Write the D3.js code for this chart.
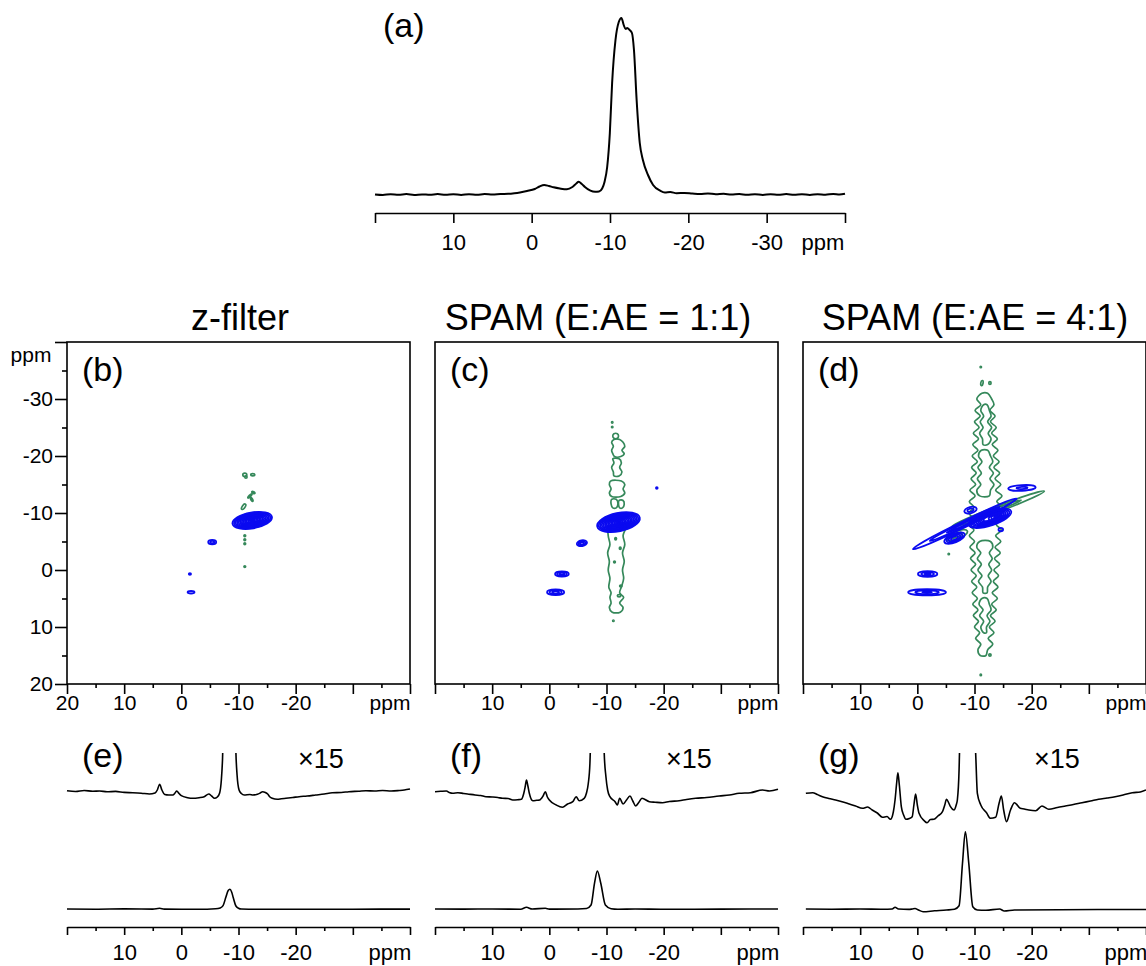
<!DOCTYPE html>
<html><head><meta charset="utf-8">
<script src="https://cdn.jsdelivr.net/npm/d3@7"></script>
<style>
body{margin:0;background:#fff}
svg{display:block}
text{font-family:"Liberation Sans",Arial,Helvetica,sans-serif;fill:#000}
</style>
</head><body>
<script>
// ---------------- DATA ----------------
const ppmMajor = [20,10,0,-10,-20,-30,-40];
const ppmMinor = [15,5,-5,-15,-25,-35];
const labelsA = [10,0,-10,-20,-30];
const labelsB = [20,10,0,-10,-20];
const labelsCD = [10,0,-10,-20];
const labelsBottom = [10,0,-10,-20];
const yMajor = [-40,-30,-20,-10,0,10,20];
const yMinor = [-35,-25,-15,-5,5,15];
const yLabels = [-30,-20,-10,0,10,20];
const titles2D = ["z-filter","SPAM (E:AE = 1:1)","SPAM (E:AE = 4:1)"];
const letters2D = ["(b)","(c)","(d)"];
const letters1D = ["(e)","(f)","(g)"];
const scaleLabel = "\u00d715";
const unitLabel = "ppm";

// (a) 1D spectrum: [ppm, intensity]
const spectrumA = [
 [20,0.5],[19,0],[18,0.8],[17,0.2],[16,0.9],[15,0.1],[14,0.6],[13,0.2],[12,0.9],[11,0.3],[10,0.7],[9,0.1],
 [8,0.8],[7,0.3],[6,0.9],[5,0.5],[4,1.0],[3,1.2],[2.2,1.8],[1.5,2.6],[0.6,4],[-0.4,6],[-1.0,8.5],[-1.6,10],
 [-2.2,9],[-2.8,7.7],[-3.6,6.5],[-4.5,5.7],[-5.2,8],[-5.7,11.5],[-6.0,13.3],[-6.4,11],[-6.8,8],[-7.5,4.3],
 [-8.1,3.2],[-8.6,3.5],[-9.0,6.5],[-9.3,13],[-9.64,28],[-9.98,62],[-10.27,112],[-10.7,155],[-11.12,173],
 [-11.46,177],[-11.75,170],[-12.0,166],[-12.2,167],[-12.5,165],[-12.8,162],[-13.06,145],[-13.4,95],
 [-13.8,52],[-14.2,35],[-14.85,20],[-15.5,10],[-16.4,4.3],[-17.0,2.5],[-17.7,2.9],[-18.5,1.8],[-19.5,2.1],
 [-20.5,1.5],[-21.5,1.0],[-22.5,1.6],[-23.5,0.8],[-24.5,1.2],[-25.5,0.4],[-26.5,0.9],[-27.5,0.2],[-28.5,0.8],
 [-29.5,0.1],[-30.5,0.7],[-31.5,0.3],[-32.5,0.9],[-33.5,0.2],[-34.5,0.7],[-35.5,0.1],[-36.5,0.8],[-37.5,0.3],
 [-38.5,1.0],[-39.3,0.4],[-40,1.2]
];

// (e)-(g) projections: x15 traces and normal traces, [ppm, intensity]
const traceE15 = [
 [20,9.3],[18.5,8.5],[17,9.5],[15.5,8.8],[14.3,9],[13,8.2],[11.5,8.6],[10,7.6],[8.5,7.3],[7,6.8],[5.6,6],
 [4.6,7],[4.2,10],[3.8,15.7],[3.4,10],[2.9,5.5],[2.2,5],[1.5,5],[1.1,7],[0.8,9],[0.4,6.5],[0,4.3],[-1.1,2.3],
 [-2.0,1.7],[-3.1,2.3],[-4.0,3.3],[-4.8,6],[-5.3,4],[-5.8,1.7],[-6.3,3],[-6.7,7],[-7.0,20],[-7.2,40],
 [-7.5,100],[-8.0,250],[-8.5,310],[-9.0,250],[-9.3,120],[-9.55,47],[-9.75,25],[-10.1,10],[-10.5,6.5],
 [-11.0,5],[-12.0,5.5],[-12.5,5],[-13.3,5.7],[-13.8,7],[-14.2,8.3],[-14.7,7.5],[-15.1,6],[-15.5,3],
 [-15.9,1.7],[-16.8,0.7],[-17.5,1.2],[-18.3,1.7],[-19.5,2.5],[-20.6,3.3],[-22,4],[-23.5,5],[-25,6],
 [-26.4,7.3],[-28,7.5],[-29.3,8.3],[-31,8.8],[-32.3,9.3],[-33.8,9],[-35.2,9.5],[-36.7,9],[-38.1,9.5],
 [-39,10],[-40,11]
];
const traceE = [
 [20,1],[15,0.8],[10,1.1],[5,0.9],[3.8,1.7],[3,0.9],[0,0.8],[-3,0.7],[-6,1.2],[-6.8,2],[-7.3,4.3],
 [-7.8,13],[-8.2,19.5],[-8.5,20.7],[-8.8,18],[-9.1,12],[-9.55,4],[-10.0,1.8],[-10.5,1],[-14,0.7],
 [-20,0.8],[-30,0.8],[-40,0.9]
];
const traceF15 = [
 [20,8.3],[19,8.7],[18,9],[17.5,7.5],[16.9,6.7],[16,7.3],[15,6.5],[14.3,6],[13,5],[12,4.5],[11.1,3.3],
 [10,3],[9,2.5],[8.2,1.7],[7.2,1.5],[6.4,0],[5.5,0.3],[4.9,0.7],[4.5,6],[4.2,14],[4.0,20],[3.75,14],
 [3.5,6.7],[2.9,-0.7],[2.2,-0.3],[1.7,0],[1.1,4],[0.7,8.3],[0.35,3],[0,0],[-1.2,-5],[-2.3,-7.3],
 [-3.2,-4],[-4.1,-1.7],[-4.7,3.3],[-5.2,-0.7],[-6.1,1.7],[-6.5,7],[-6.8,16],[-7.1,36.7],[-7.4,120],
 [-7.9,400],[-8.4,570],[-8.9,400],[-9.3,150],[-9.6,47],[-9.9,23.3],[-10.2,10],[-10.6,3.3],[-11.5,-1.7],
 [-11.9,-5],[-12.3,1.7],[-12.9,-4],[-13.5,0],[-14.1,4],[-14.6,-1],[-15.1,-6],[-15.7,-2],[-16.2,1.7],
 [-17.5,-1.7],[-18.5,-2.2],[-19.8,-2.7],[-21,-1.5],[-22.7,-0.7],[-24,0.5],[-25.6,1.7],[-27.5,2.5],
 [-29.7,4],[-31.5,5],[-33.2,6.7],[-35.2,7.3],[-37.3,10],[-38.5,9],[-40,10.7]
];
const traceF = [
 [20,1],[15,0.9],[10,1],[5,0.8],[4.0,2.7],[3,1],[0.7,1.7],[0,0.9],[-5,1],[-6.5,1.5],[-7.3,5],
 [-7.9,26.7],[-8.4,39],[-9.0,26.7],[-9.8,5],[-10.8,1.3],[-12,0.8],[-15,1],[-20,0.7],[-30,0.9],[-40,1]
];
const traceG15 = [
 [19.5,6.7],[18.3,7.3],[17.5,5.5],[16.6,3.3],[15.5,1.5],[14.3,0],[13,-2],[11.9,-4],[10.8,-6],[9.6,-8.3],
 [8.7,-7],[7.9,-10],[7,-13],[6.1,-17.3],[5.3,-16.5],[4.7,-19.3],[4.2,-12],[3.9,0],[3.6,18],[3.4,27.3],
 [3.15,15],[2.8,-6.7],[2.4,-15],[2.0,-19.3],[1.4,-18.5],[0.9,-16.7],[0.6,-5],[0.3,6],[0.0,-5],[-0.3,-13.3],
 [-1.2,-20.7],[-1.7,-22.7],[-2.3,-19.5],[-2.9,-19.3],[-3.6,-16],[-4.4,-11.7],[-4.8,-5],[-5.1,0.7],
 [-5.5,-3],[-5.8,-6.7],[-6.4,-10],[-6.8,-5],[-7.0,0],[-7.3,30],[-7.6,150],[-8.0,700],[-8.4,1170],
 [-8.8,700],[-9.2,300],[-9.6,150],[-9.9,80],[-10.2,47],[-10.5,6.7],[-11.1,-5],[-12.1,-12.7],[-12.8,-18.3],
 [-13.7,-17.3],[-14.3,-3.3],[-14.7,4],[-15.1,-10],[-15.6,-21.7],[-16.3,-10],[-17.0,-2.7],[-18.0,-8.3],
 [-18.7,-9],[-19.5,-10],[-20.7,-10.7],[-21.8,-6],[-23.0,-9.3],[-24.5,-7.5],[-25.9,-6],[-27.3,-4.5],
 [-28.8,-2.7],[-30.3,-1],[-31.7,0.7],[-33.2,2],[-34.6,3.3],[-36,5],[-37.6,7.3],[-39,8],[-40,10]
];
const traceG = [
 [19.5,1],[15,0.8],[10,1],[6,0.7],[4.4,1],[3.9,2.7],[3.3,1],[1.5,0.6],[0.9,1],[0.4,1.5],[-0.2,0],
 [-1,-1.7],[-3,-0.8],[-5.1,0],[-6.5,0.8],[-7.3,4.3],[-7.9,46.7],[-8.4,78.3],[-9.0,46.7],[-9.7,3.3],
 [-10.5,0],[-12,-0.3],[-14.4,1],[-15.2,-1],[-17,0],[-25,0.3],[-40,0.5]
];

// 2D contour peaks: [x ppm, y ppm, rx ppm, ry ppm, angle deg, levels, innermost fraction]
const blueB = [
 [-12.4,-8.7,3.5,1.4,-10,13,0.05],[-5.4,-4.9,0.7,0.4,0,2,0.5],[-1.5,0.7,0.2,0.15,0,1,1],[-1.7,3.9,0.6,0.22,0,1,1]
];
const greenB = [
 [-11.1,-16.7,0.35,0.3,0,1,1],[-12.5,-16.7,0.35,0.2,0,1,1],[-11.3,-16.3,0.2,0.2,0,1,1],
 [-12.0,-13.0,0.5,0.15,-45,1,1],[-12.6,-13.6,0.3,0.15,30,1,1],[-12.3,-12.4,0.4,0.15,60,1,1],
 [-10.9,-11.1,0.55,0.25,-55,1,1],[-11.1,-6.0,0.15,0.15,0,1,1],[-11.1,-5.3,0.15,0.15,0,1,1],
 [-11.1,-4.6,0.15,0.15,0,1,1],[-11.1,-0.6,0.15,0.15,0,1,1]
];
const blueC = [
 [-12.1,-8.4,3.8,1.6,-12,14,0.05],[-5.7,-4.7,0.9,0.5,-10,3,0.4],[-2.2,0.7,1.2,0.45,0,3,0.4],
 [-1.1,3.9,1.5,0.5,0,3,0.4],[-18.8,-14.4,0.15,0.15,0,1,1]
];
const greenC = [
 [-11.0,-25.9,0.12,0.12,0,1,1],[-11.0,-25.1,0.12,0.12,0,1,1],[-11.2,8.9,0.12,0.12,0,1,1],
 [-11.6,-5.5,0.15,0.2,0,1,1],[-12.4,-3.8,0.15,0.2,0,1,1],[-11.4,-1.4,0.15,0.15,0,1,1],
 [-12.5,2.8,0.2,0.15,0,1,1],[-12.2,4.5,0.3,0.2,0,1,1]
];
// green band contours: rows [y ppm, left-edge x ppm, right-edge x ppm]
const greenBandsC = [
 [[-23.9,-11.3,-11.9],[-23.5,-11.1,-12.1],[-23.1,-11.3,-11.9]],
 [[-22.9,-11.3,-12.3],[-22.4,-10.9,-12.9],[-21.7,-11.2,-13.2],[-21.0,-10.9,-12.7],[-20.4,-11.1,-13.1],[-19.9,-11.4,-12.5]],
 [[-19.5,-11.1,-12.2],[-18.8,-11.3,-12.6],[-18.0,-10.9,-12.3],[-17.2,-11.2,-12.7],[-16.5,-11.3,-12.2]],
 [[-15.6,-10.7,-12.6],[-15.0,-10.5,-13.2],[-14.2,-10.8,-12.9],[-13.5,-10.5,-13.2],[-12.9,-10.9,-12.5]],
 [[-12.4,-10.9,-11.7],[-11.6,-10.8,-12.0],[-10.9,-11.1,-11.7]],
 [[-12.2,-12.2,-12.9],[-11.5,-12.1,-13.1],[-10.9,-12.3,-12.8]],
 [[-7.6,-10.4,-13.3],[-6.0,-10.3,-12.9],[-4.5,-10.6,-13.2],[-3.0,-10.2,-12.8],[-1.5,-10.5,-13.1],[0,-10.3,-12.8],
  [1.5,-10.6,-13.0],[3.0,-10.4,-12.6],[4.0,-10.8,-12.3],[4.8,-10.6,-13.0],[5.8,-10.8,-12.3],[6.6,-10.5,-12.9],[7.4,-11.0,-12.4]]
];
const blueD = [
 [-8.3,-8.1,10.1,0.55,-26,3,0.35],[-12.7,-9.1,3.9,1.3,-18,9,0.3],[-6.5,-5.6,1.9,0.75,-22,4,0.35],
 [-9.3,-10.5,1.1,0.55,-15,2,0.5],[-18.3,-14.4,2.4,0.5,-3,2,0.4],[-14.6,-7.1,0.4,0.3,0,1,1],
 [-13.8,-9.4,1.4,0.5,-20,3,0.3],[-1.8,0.7,1.7,0.5,0,3,0.3],[-1.7,3.9,3.3,0.55,0,3,0.25]
];
const greenD = [
 [-14.1,-10.7,8.7,0.5,-21,2,0.5],[-6.9,-6.1,2.0,0.7,-22,2,0.5],
 [-11.1,-35.6,0.12,0.12,0,1,1],[-11.3,-32.8,0.2,0.45,10,1,1],[-12.7,-32.8,0.2,0.25,0,1,1],
 [-11.1,18.4,0.12,0.12,0,1,1],[-12.7,14.9,0.2,0.2,0,1,1],[-5.5,-2.8,0.12,0.12,0,1,1]
];
const greenBandsD = [
 [[-31.0,-11.3,-12.3],[-30.0,-10.4,-13.0],[-29.0,-11.1,-13.4],[-28.0,-10.1,-12.7],[-27.0,-11.0,-13.6],[-26.0,-10.0,-12.8],
  [-25.0,-10.8,-13.8],[-24.0,-9.8,-13.0],[-23.0,-10.7,-14.0],[-22.0,-9.7,-13.1],[-21.0,-10.6,-14.1],[-20.0,-9.6,-13.3],
  [-19.0,-10.5,-14.3],[-18.0,-9.5,-13.4],[-17.0,-10.3,-14.4],[-16.0,-9.4,-13.6],[-15.0,-10.2,-14.6],[-14.0,-9.2,-13.7],
  [-13.0,-10.1,-14.8],[-12.0,-9.1,-13.9],[-11.0,-9.9,-14.9],[-10.0,-9.0,-14.0],[-9.0,-9.8,-14.8],[-8.0,-9.0,-13.8],
  [-7.0,-9.9,-14.7],[-6.0,-9.1,-13.7],[-5.0,-10.0,-14.6],[-4.0,-9.2,-13.6],[-3.0,-10.1,-14.5],[-2.0,-9.3,-13.5],
  [-1.0,-10.2,-14.4],[0.0,-9.4,-13.4],[1.0,-10.3,-14.2],[2.0,-9.5,-13.3],[3.0,-10.4,-14.1],[4.0,-9.6,-13.1],
  [5.0,-10.5,-14.0],[6.0,-9.7,-13.0],[7.0,-10.6,-13.8],[8.0,-9.8,-12.8],[9.0,-10.7,-13.6],[10.0,-10.0,-12.6],
  [11.0,-10.9,-13.4],[12.0,-10.2,-12.4],[13.0,-11.1,-13.2],[14.0,-10.6,-12.3],[15.0,-11.0,-12.0]],
 [[-29,-11.6,-12.2],[-28,-11.1,-12.6],[-27,-11.6,-12.9],[-26,-11.0,-12.3],[-25,-11.5,-13.0],[-24,-10.9,-12.4],[-23,-11.4,-12.9],[-22,-11.5,-12.3]],
 [[-21,-11.2,-12.3],[-20,-10.7,-12.8],[-19,-11.3,-13.2],[-18,-10.6,-12.6],[-17,-11.2,-13.3],[-16,-10.5,-12.7],[-15,-11.1,-13.4],[-14,-10.4,-12.8],[-13,-10.9,-12.6]],
 [[-5,-10.9,-12.8],[-4,-10.4,-13.2],[-3,-11.1,-12.6],[-2,-10.5,-13.1],[-1,-11.2,-12.5],[0,-10.6,-13.0],[1,-11.3,-12.4],[2,-10.7,-12.9],[3,-11.4,-12.3],[4,-11.5,-12.2]],
 [[5,-11.3,-12.2],[6,-10.8,-12.6],[7,-11.5,-12.9],[8,-10.9,-12.2],[9,-11.6,-12.7],[10,-11.1,-12.1],[11,-11.6,-12.1]]
];

// ---------------- DRAWING ----------------
const W = 1146, H = 966;
const FONT = '"Liberation Sans",Arial,Helvetica,sans-serif';
const BLUE = "#0a0af0", GREEN = "#35885a";
const svg = d3.select("body").append("svg").attr("width", W).attr("height", H);
svg.append("rect").attr("width", W).attr("height", H).attr("fill", "#fff");

function xAxis(g, xs, y, labels, majorLen, minorLen, pad, keepDomain, fs) {
  const a = g.append("g").attr("transform", `translate(0,${y})`)
    .call(d3.axisBottom(xs).tickValues(ppmMajor).tickSize(majorLen).tickSizeOuter(0).tickPadding(pad)
      .tickFormat(d => labels.includes(d) ? String(d) : ""));
  a.attr("font-family", FONT).attr("font-size", fs);
  a.selectAll("line,path").attr("stroke", "#000").attr("stroke-width", 1.6);
  if (!keepDomain) a.select(".domain").remove();
  if (minorLen > 0) {
    const m = g.append("g").attr("transform", `translate(0,${y})`)
      .call(d3.axisBottom(xs).tickValues(ppmMinor).tickSize(minorLen).tickFormat(""));
    m.select(".domain").remove();
    m.selectAll("line").attr("stroke", "#000").attr("stroke-width", 1.6);
  }
  return y + majorLen + pad + 0.71 * fs; // label baseline
}

function trace(g, data, xs, ys, width) {
  const line = d3.line().x(d => xs(d[0])).y(d => ys(d[1])).curve(d3.curveMonotoneX);
  g.append("path").datum(data).attr("d", line).attr("fill", "none")
    .attr("stroke", "#000").attr("stroke-width", width).attr("stroke-linejoin", "round");
}

// ----- (a)
{
  const xs = d3.scaleLinear().domain([20, -40]).range([375, 845]);
  const ys = d3.scaleLinear().domain([0, 177]).range([195, 18]);
  const g = svg.append("g");
  trace(g, spectrumA, xs, ys, 2);
  const base = xAxis(g, xs, 213, labelsA, 10, 0, 11, true, 22);
  g.append("text").attr("x", 823).attr("y", base).attr("text-anchor", "middle").attr("font-size", 22).text(unitLabel);
  g.append("text").attr("x", 383).attr("y", 37).attr("font-size", 34).text("(a)");
}

// ----- 2D panels
function ellipses(g, xs, ys, list, color, sw) {
  list.forEach(p => {
    const [cx, cy, rx, ry, ang, n, inner] = p;
    const px = xs(cx), py = ys(cy);
    const Rx = Math.abs(xs(cx + rx) - px), Ry = Math.abs(ys(cy + ry) - py);
    for (let k = 0; k < n; k++) {
      const f = n === 1 ? 1 : inner + (1 - inner) * k / (n - 1);
      g.append("ellipse").attr("cx", px).attr("cy", py).attr("rx", Rx * f).attr("ry", Ry * f)
        .attr("transform", `rotate(${ang},${px},${py})`)
        .attr("fill", "none").attr("stroke", color).attr("stroke-width", sw);
    }
  });
}
function bands(g, xs, ys, list, color, sw) {
  const line = d3.line().curve(d3.curveCatmullRomClosed.alpha(0.5));
  list.forEach(rows => {
    const pts = rows.map(r => [xs(r[1]), ys(r[0])]).concat(rows.slice().reverse().map(r => [xs(r[2]), ys(r[0])]));
    g.append("path").attr("d", line(pts)).attr("fill", "none").attr("stroke", color).attr("stroke-width", sw);
  });
}

const panels2D = [
  {blue: blueB, green: greenB, bandsG: [], labels: labelsB},
  {blue: blueC, green: greenC, bandsG: greenBandsC, labels: labelsCD},
  {blue: blueD, green: greenD, bandsG: greenBandsD, labels: labelsCD}
];
const titleX = [240, 598, 975];
panels2D.forEach((p, i) => {
  const x0 = 67 + 368 * i;
  const xs = d3.scaleLinear().domain([20, -40]).range([x0, x0 + 343]);
  const ys = d3.scaleLinear().domain([-40, 20]).range([342, 684]);
  const g = svg.append("g");
  const cid = "clip2d" + i;
  g.append("clipPath").attr("id", cid).append("rect").attr("x", x0).attr("y", 342).attr("width", 343).attr("height", 342);
  const cg = g.append("g").attr("clip-path", `url(#${cid})`);
  bands(cg, xs, ys, p.bandsG, GREEN, 1.7);
  ellipses(cg, xs, ys, p.green, GREEN, 1.7);
  ellipses(cg, xs, ys, p.blue, BLUE, 1.8);
  g.append("rect").attr("x", x0).attr("y", 342).attr("width", 343).attr("height", 342)
    .attr("fill", "none").attr("stroke", "#000").attr("stroke-width", 1.6);
  const base = xAxis(g, xs, 684, p.labels, 10, 4, 1, false, 21);
  g.append("text").attr("x", x0 + 323).attr("y", base).attr("text-anchor", "middle").attr("font-size", 21).text(unitLabel);
  if (i === 0) {
    const a = g.append("g").attr("transform", `translate(${x0},0)`)
      .call(d3.axisLeft(ys).tickValues(yMajor).tickSize(12).tickPadding(2)
        .tickFormat(d => yLabels.includes(d) ? String(d) : ""));
    a.attr("font-family", FONT).attr("font-size", 21);
    a.select(".domain").remove();
    a.selectAll("line").attr("stroke", "#000").attr("stroke-width", 1.6);
    const m = g.append("g").attr("transform", `translate(${x0},0)`)
      .call(d3.axisLeft(ys).tickValues(yMinor).tickSize(5).tickFormat(""));
    m.select(".domain").remove();
    m.selectAll("line").attr("stroke", "#000").attr("stroke-width", 1.6);
    g.append("text").attr("x", 31).attr("y", 362).attr("text-anchor", "middle").attr("font-size", 21).text(unitLabel);
  }
  g.append("text").attr("x", titleX[i]).attr("y", 330).attr("text-anchor", "middle").attr("font-size", 36).text(titles2D[i]);
  g.append("text").attr("x", x0 + 15).attr("y", 381).attr("font-size", 34).text(letters2D[i]);
});

// ----- (e)-(g)
const bottom = [[traceE15, traceE], [traceF15, traceF], [traceG15, traceG]];
bottom.forEach((tr, i) => {
  const x0 = 67 + 368 * i;
  const xs = d3.scaleLinear().domain([20, -40]).range([x0, x0 + 343]);
  const yUp = d3.scaleLinear().domain([0, 100]).range([800, 700]);
  const yLo = d3.scaleLinear().domain([0, 100]).range([910, 810]);
  const g = svg.append("g");
  const cid = "clip1d" + i;
  g.append("clipPath").attr("id", cid).append("rect").attr("x", x0 - 5).attr("y", 753).attr("width", 353).attr("height", 160);
  trace(g.append("g").attr("clip-path", `url(#${cid})`), tr[0], xs, yUp, 1.6);
  trace(g, tr[1], xs, yLo, 1.6);
  const base = xAxis(g, xs, 927, labelsBottom, 8, 4, 9, true, 22);
  g.append("text").attr("x", x0 + 323).attr("y", base).attr("text-anchor", "middle").attr("font-size", 22).text(unitLabel);
  g.append("text").attr("x", x0 + 15).attr("y", 767).attr("font-size", 34).text(letters1D[i]);
  g.append("text").attr("x", x0 + 231).attr("y", 768).attr("font-size", 27).text(scaleLabel);
});
</script>
</body></html>
